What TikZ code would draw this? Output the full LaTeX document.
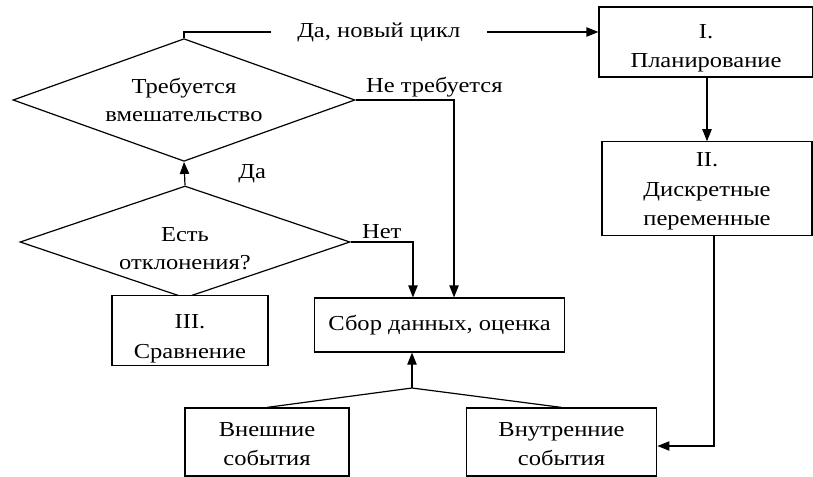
\documentclass[tikz,border=0pt]{standalone}
\usepackage{fontspec}
\setmainfont{Liberation Serif}[FakeStretch=1.15]
\usetikzlibrary{arrows.meta,shapes.geometric}
\newcommand\droptext[1]{\rule{0pt}{#1}}
\tikzset{
  >={Triangle[length=9pt,width=7pt]},
  stagebox/.style={draw=black,line width=0.9pt,fill=white,align=center,inner sep=2pt,
    font=\fontsize{16pt}{22pt}\selectfont},
  decision/.style={diamond,draw=black,line width=0.9pt,align=center,inner sep=0pt,
    font=\fontsize{16pt}{21pt}\selectfont},
  flow/.style={->,line width=0.9pt},
  link/.style={line width=0.9pt},
  tag/.style={font=\fontsize{16pt}{18pt}\selectfont,inner sep=2pt}
}

\begin{document}
\begin{tikzpicture}[x=0.75pt,y=-0.75pt]
  \useasboundingbox (0,0) rectangle (813,477);

  \node[decision,aspect=2.78,minimum width=256.5pt,minimum height=92pt] (need) at (184,100) {Требуется\\вмешательство};
  \node[decision,aspect=2.95,minimum width=247.5pt,minimum height=84pt] (deviate) at (185,242) {\droptext{21pt}Есть\\отклонения?};
  \node[stagebox,minimum width=117pt,minimum height=48.75pt] (compare) at (190,330.5) {\droptext{23pt}III.\\Сравнение};
  \node[stagebox,minimum width=188pt,minimum height=40.5pt] (collect) at (439.5,325) {Сбор данных, оценка};

  \node[stagebox,minimum width=160.5pt,minimum height=52.5pt] (plan) at (706,42) {\droptext{20pt}I.\\Планирование};
  \node[stagebox,minimum width=157.5pt,minimum height=70pt] (discrete) at (707,188.5) {\droptext{15pt}II.\\Дискретные\\переменные};

  \node[stagebox,minimum width=123pt,minimum height=51pt] (external) at (267,442) {\droptext{14pt}Внешние\\события};
  \node[stagebox,minimum width=143pt,minimum height=51pt] (internal) at (561.5,442) {\droptext{14pt}Внутренние\\события};
  \coordinate (merge) at (412,388);

  \draw[flow] (need.north) |- (plan.west |- 0,32)
    node[tag,pos=0.735,fill=white,inner xsep=20pt] {Да, новый цикл};
  \draw[flow] (need.east) -| ([xshift=10.9pt]collect.north) node[tag,pos=0.4,above] {Не требуется};
  \draw[flow] (deviate.north) -- (need.south) node[tag,midway,right=38pt] {Да};
  \draw[flow] (deviate.east) -| ([xshift=-19.9pt]collect.north) node[tag,pos=0.25,above] {Нет};
  \draw[flow] (plan.south -| discrete.north) -- (discrete.north);
  \draw[flow] ([xshift=5.3pt]discrete.south) |- ([yshift=-3pt]internal.east);
  \draw[link] (external.north) -- (merge) -- (internal.north);
  \draw[flow] (merge) -- (merge |- collect.south);
\end{tikzpicture}
\end{document}
